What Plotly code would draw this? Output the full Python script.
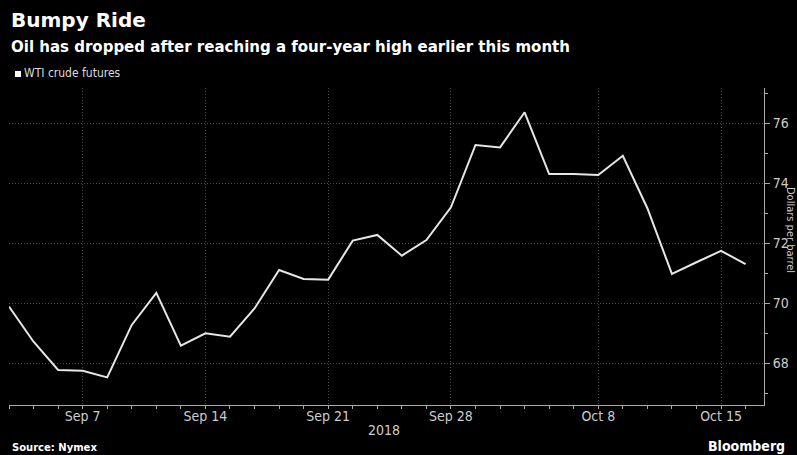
import plotly.graph_objects as go

dates = ["2018-09-04", "2018-09-05", "2018-09-06", "2018-09-07", "2018-09-10",
         "2018-09-11", "2018-09-12", "2018-09-13", "2018-09-14", "2018-09-17",
         "2018-09-18", "2018-09-19", "2018-09-20", "2018-09-21", "2018-09-24",
         "2018-09-25", "2018-09-26", "2018-09-27", "2018-09-28", "2018-10-01",
         "2018-10-02", "2018-10-03", "2018-10-04", "2018-10-05", "2018-10-08",
         "2018-10-09", "2018-10-10", "2018-10-11", "2018-10-12", "2018-10-15",
         "2018-10-16"]
wti = [69.88, 68.71, 67.77, 67.74, 67.52, 69.27, 70.34, 68.58, 68.99, 68.88,
       69.82, 71.10, 70.80, 70.78, 72.08, 72.27, 71.58, 72.10, 73.19, 75.27,
       75.19, 76.36, 74.30, 74.30, 74.27, 74.91, 73.16, 70.97, 71.36, 71.74,
       71.30]
tick_dates = ["2018-09-07", "2018-09-14", "2018-09-21", "2018-09-28", "2018-10-08", "2018-10-15"]
tick_labels = ["Sep 7", "Sep 14", "Sep 21", "Sep 28", "Oct 8", "Oct 15"]

xs = list(range(len(dates)))
tickvals = [dates.index(d) for d in tick_dates]

COND = "DejaVu Sans Condensed, DejaVu Sans, sans-serif"
BOLD = "DejaVu Sans, Verdana, sans-serif"
W, H = 797, 455
L, R, T, B = 9, 33, 88, 50
ph = H - T - B
pw = W - L - R

def py(pix):
    return (H - B - pix) / ph

def px(pix):
    return (pix - L) / pw

GRID = "#4a4a4a"

fig = go.Figure()
fig.add_trace(go.Scatter(x=xs, y=wti, mode="lines", name="WTI crude futures",
                         line=dict(color="#e6e6e6", width=2), showlegend=False,
                         hovertext=dates))

fig.update_layout(
    width=W, height=H,
    paper_bgcolor="black", plot_bgcolor="black",
    margin=dict(l=L, r=R, t=T, b=B),
    xaxis=dict(range=[0, len(dates) - 1 + 0.75], tickvals=tickvals, ticktext=tick_labels,
               showgrid=True, gridcolor=GRID, griddash="1px,2px", gridwidth=1,
               showline=True, linecolor="#aaa", linewidth=1,
               ticks="outside", ticklen=3, tickcolor="#aaa",
               minor=dict(dtick=1, tick0=0, ticks="outside", ticklen=3, tickcolor="#aaa", showgrid=False),
               tickfont=dict(family=COND, size=14, color="#cccccc"),
               ticklabelstandoff=-5,
               zeroline=False, fixedrange=True, automargin=False),
    yaxis=dict(side="right", range=[66.6, 77.17], tick0=68, dtick=2,
               showgrid=True, gridcolor=GRID, griddash="1px,2px", gridwidth=1,
               showline=True, linecolor="#aaa", linewidth=1,
               ticks="outside", ticklen=5, tickcolor="#aaa",
               minor=dict(dtick=1, tick0=67, ticks="outside", ticklen=3, tickcolor="#aaa", showgrid=False),
               tickfont=dict(family=COND, size=14, color="#cccccc"),
               zeroline=False, fixedrange=True, automargin=False),
    annotations=[
        dict(text="<b>Bumpy Ride</b>", xref="paper", yref="paper", x=px(9), y=py(20),
             xanchor="left", yanchor="middle", showarrow=False,
             font=dict(family=BOLD, size=20, color="white")),
        dict(text="<b>Oil has dropped after reaching a four-year high earlier this month</b>",
             xref="paper", yref="paper", x=px(9), y=py(47),
             xanchor="left", yanchor="middle", showarrow=False,
             font=dict(family=BOLD, size=15, color="white")),
        dict(text="WTI crude futures", xref="paper", yref="paper", x=px(22), y=py(73),
             xanchor="left", yanchor="middle", showarrow=False,
             font=dict(family=COND, size=12, color="#dddddd")),
        dict(text="2018", xref="paper", yref="paper", x=px(384), y=py(430),
             xanchor="center", yanchor="middle", showarrow=False,
             font=dict(family=COND, size=14, color="#cccccc")),
        dict(text="<b>Source: Nymex</b>", xref="paper", yref="paper", x=px(10), y=py(447),
             xanchor="left", yanchor="middle", showarrow=False,
             font=dict(family=BOLD, size=10, color="white")),
        dict(text="<b>Bloomberg</b>", xref="paper", yref="paper", x=px(706), y=py(446),
             xanchor="left", yanchor="middle", showarrow=False,
             font=dict(family=COND, size=14, color="white")),
        dict(text="Dollars per barrel", xref="paper", yref="paper", x=px(791), y=py(230),
             xanchor="center", yanchor="middle", showarrow=False, textangle=90,
             font=dict(family=COND, size=11, color="#cccccc")),
    ],
    shapes=[
        dict(type="rect", xref="paper", yref="paper", x0=px(15), x1=px(21), y0=py(77), y1=py(71),
             fillcolor="white", line=dict(width=0)),
    ],
)

fig.write_html("out.html", config={"displayModeBar": False},
               post_script="document.body.style.margin='0';document.body.style.background='black';")
